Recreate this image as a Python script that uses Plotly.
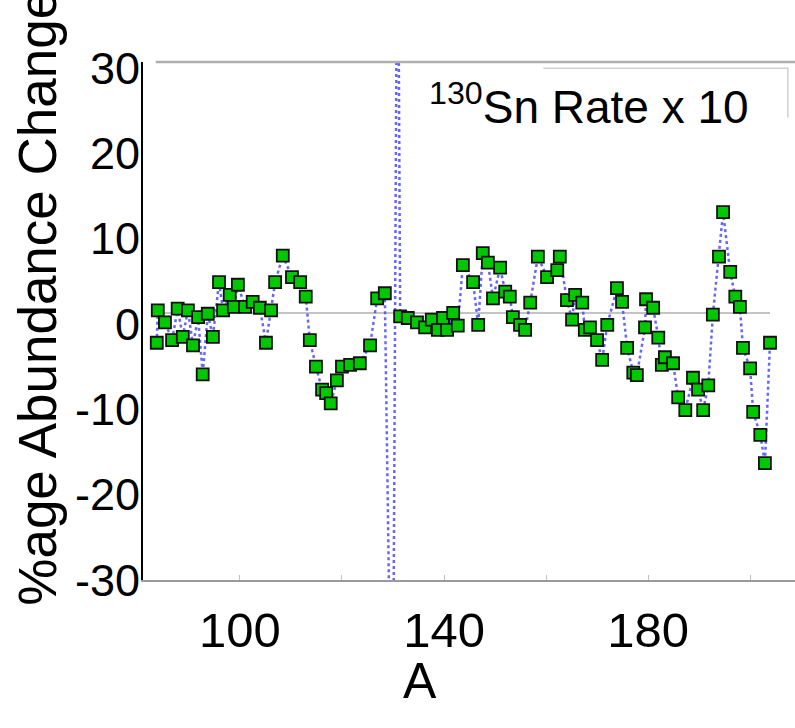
import plotly.graph_objects as go

# Mass number A and percentage abundance change
# The two values at 129.9 / 130.9 are the off-scale 130Sn spike.
A = [83.7, 83.9, 85.3, 86.7, 87.8, 88.8, 89.8, 90.8, 91.8, 92.7,
     93.7, 94.7, 95.9, 96.7, 98.0, 98.8, 99.6, 101.0, 102.5, 103.9,
     105.1, 106.1, 106.9, 108.4, 110.2, 111.8, 112.9, 113.7, 114.9, 116.1,
     116.9, 117.8, 119.0, 120.0, 121.6, 123.5, 125.5, 126.9, 128.4,
     129.9, 130.9,
     131.4, 132.9, 134.7, 136.3, 137.6, 138.8, 139.8, 140.6, 141.8, 142.7,
     143.7, 145.7, 146.7, 147.6, 148.6, 149.6, 151.0, 152.0, 152.9, 153.5,
     154.9, 155.9, 156.9, 158.4, 160.2, 162.2, 162.7, 164.1, 165.1, 165.7,
     167.1, 167.6, 168.6, 170.0, 171.0, 172.0, 173.9, 174.9, 175.9, 177.1,
     177.8, 179.4, 179.6, 181.0, 182.0, 182.7, 183.3, 184.9, 185.9, 187.3,
     188.8, 189.8, 190.8, 191.8, 192.7, 193.9, 194.7, 196.1, 197.1, 198.0,
     198.6, 200.0, 200.6, 202.0, 202.9, 203.9]
change = [-2.2, 1.6, 0.2, -1.9, 1.8, -1.5, 1.6, -2.5, 0.8, -5.9,
          1.2, -1.5, 4.9, 1.6, 3.4, 2.0, 4.6, 2.0, 2.6, 1.9,
          -2.2, 1.6, 4.9, 8.0, 5.5, 4.9, 3.2, -1.9, -5.0, -7.7,
          -8.1, -9.3, -6.6, -5.0, -4.8, -4.6, -2.5, 3.0, 3.6,
          -60.0, 60.0,
          0.9, 0.7, 0.2, -0.4, 0.5, -0.7, 0.7, -0.7, 1.3, -0.2,
          6.9, 4.9, -0.1, 8.3, 7.2, 3.0, 6.6, 3.8, 3.2, 0.8,
          -0.1, -0.7, 2.5, 7.9, 5.5, 6.3, 7.9, 2.8, 0.5, 3.4,
          2.5, -0.7, -0.4, -1.9, -4.2, -0.1, 4.2, 2.6, -2.8, -5.7,
          -6.0, -0.4, 2.9, 1.9, -1.6, -4.8, -3.9, -4.6, -8.6, -10.1,
          -6.3, -7.7, -10.1, -7.2, 1.1, 7.9, 13.1, 6.1, 3.2, 2.0,
          -2.8, -5.2, -10.3, -13.0, -16.3, -2.2]

x_ticks = [100, 140, 180]
y_ticks = [-30, -20, -10, 0, 10, 20, 30]
y_ticktext = ["-30", "-20", "-10", "0", "10", "20", "30"]

FONT = "Liberation Sans, Arial, sans-serif"

fig = go.Figure()
fig.add_trace(go.Scatter(
    x=A, y=change, mode="lines+markers",
    line=dict(color="rgba(75,75,255,0.85)", width=2.5, dash="dot"),
    marker=dict(symbol="square", size=12, color="#00c800",
                line=dict(color="#111111", width=1.8)),
    hoverinfo="x+y",
))

fig.update_layout(
    width=795, height=728,
    margin=dict(l=143, r=0, t=62, b=148),
    paper_bgcolor="white", plot_bgcolor="white",
    showlegend=False,
    font=dict(family=FONT, color="black"),
    xaxis=dict(
        range=[81.0, 208.8], tickvals=x_ticks,
        ticktext=[str(v) for v in x_ticks],
        showgrid=False, zeroline=False,
        showline=True, linecolor="#9a9a9a", linewidth=2,
        ticks="inside", ticklen=5, tickcolor="#c0c0c0",
        minor=dict(ticks="inside", tickmode="linear", tick0=100, dtick=20,
                   ticklen=5, tickcolor="#c0c0c0"),
        tickfont=dict(size=49, family=FONT),
        ticklabelstandoff=6,
    ),
    yaxis=dict(
        range=[-30, 30.7], tickvals=y_ticks, ticktext=y_ticktext,
        showgrid=False, zeroline=False,
        showline=True, linecolor="black", linewidth=2,
        ticks="", tickfont=dict(size=45, family=FONT),
        ticklabelstandoff=-8,
    ),
    shapes=[
        # faint horizontal reference line
        dict(type="line", xref="x", yref="y", x0=83.3, x1=203.9, y0=1.3, y1=1.3,
             line=dict(color="#c4c4c4", width=2), layer="below"),
        # top frame line
        dict(type="line", xref="x", yref="paper", x0=83.5, x1=208.8, y0=1, y1=1,
             line=dict(color="#b0b0b0", width=2.5)),
        # legend box remnant
        dict(type="path", xref="paper", yref="paper",
             path="M 0.614 0.988 L 0.989 0.988 L 0.989 0.893",
             line=dict(color="#d0d0d0", width=1.5)),
    ],
    annotations=[
        dict(text="<sup>130</sup>Sn Rate x 10", xref="paper", yref="paper",
             x=0.436, y=0.918, xanchor="left", yanchor="middle",
             showarrow=False, font=dict(size=46, family=FONT, color="black")),
        dict(text="A", xref="paper", yref="paper", x=0.425, y=-0.195,
             xanchor="center", yanchor="middle", showarrow=False,
             font=dict(size=50, family=FONT, color="black")),
        dict(text="%age Abundance Change", xref="paper", yref="paper",
             x=-0.161, y=0.545, xanchor="center", yanchor="middle",
             textangle=-90, showarrow=False,
             font=dict(size=53, family=FONT, color="black")),
    ],
)

fig.write_html("out.html")
